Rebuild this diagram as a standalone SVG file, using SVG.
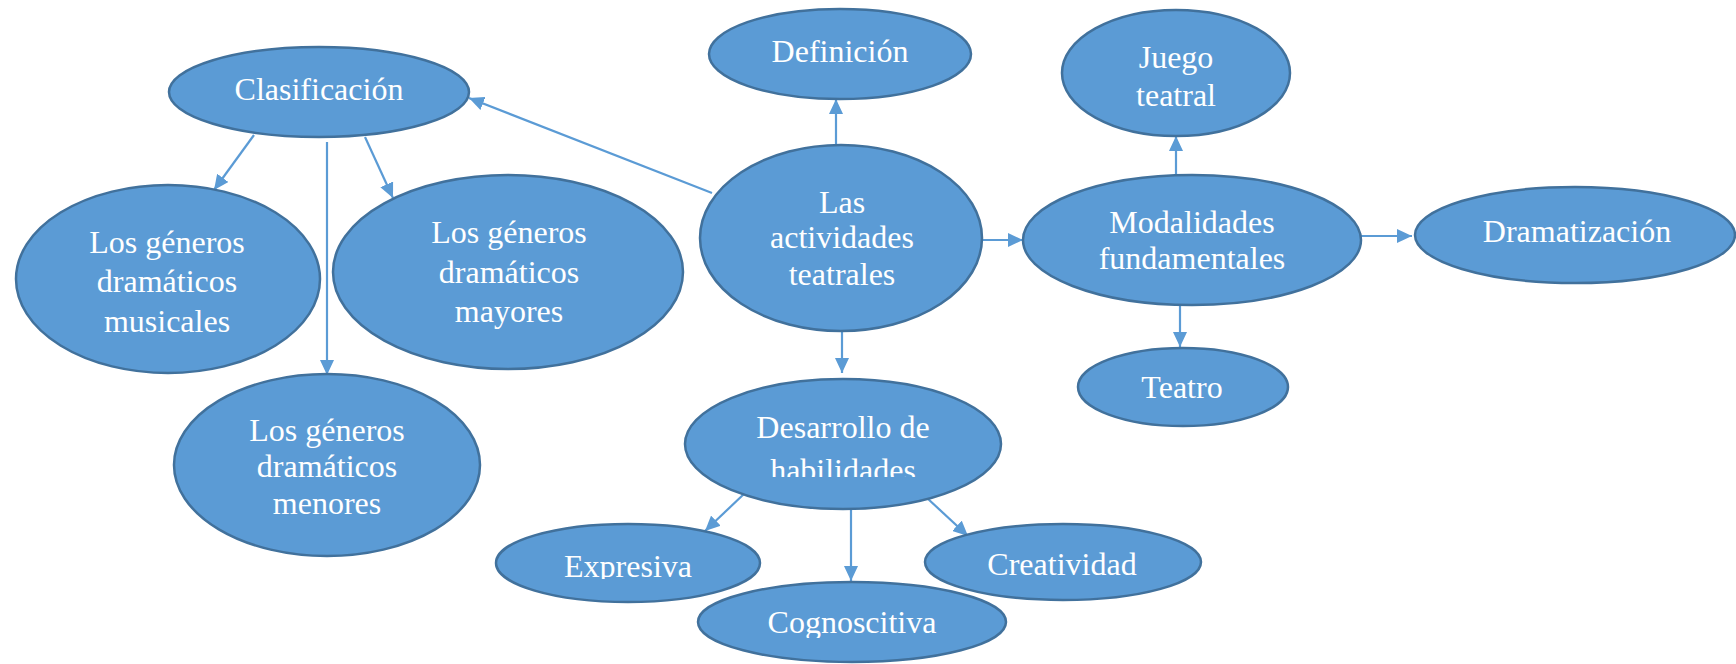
<svg xmlns="http://www.w3.org/2000/svg" width="1736" height="664" viewBox="0 0 1736 664">
<style>
.n{fill:#5B9BD5;stroke:#41719C;stroke-width:2.5}
.t{font-family:"Liberation Serif","Times New Roman",serif;font-size:32px;fill:#FFFFFF;text-anchor:middle}
.c{stroke:#5B9BD5;stroke-width:2.2;fill:none;marker-end:url(#ah)}
</style>
<defs>
<marker id="ah" markerUnits="userSpaceOnUse" markerWidth="16" markerHeight="14" refX="15" refY="7" orient="auto">
<path d="M0,0 L15,7 L0,14 z" fill="#5B9BD5"/>
</marker>
<clipPath id="clipHab"><rect x="600" y="400" width="500" height="77"/></clipPath>
<clipPath id="clipExp"><rect x="480" y="530" width="300" height="49"/></clipPath>
<clipPath id="clipCog"><rect x="690" y="590" width="330" height="48"/></clipPath>
</defs>
<rect width="1736" height="664" fill="#FFFFFF"/>
<g id="connectors">
<line class="c" x1="712" y1="193" x2="469" y2="98"/>
<line class="c" x1="254" y1="135" x2="214" y2="190"/>
<line class="c" x1="327" y1="142" x2="327" y2="375"/>
<line class="c" x1="365" y1="137" x2="393" y2="198"/>
<line class="c" x1="836" y1="145" x2="836" y2="99"/>
<line class="c" x1="983" y1="240" x2="1023" y2="240"/>
<line class="c" x1="842" y1="331" x2="842" y2="373"/>
<line class="c" x1="1176" y1="175" x2="1176" y2="136"/>
<line class="c" x1="1361" y1="236" x2="1412" y2="236"/>
<line class="c" x1="1180" y1="306" x2="1180" y2="347"/>
<line class="c" x1="745" y1="493" x2="705" y2="531"/>
<line class="c" x1="851" y1="508" x2="851" y2="581"/>
<line class="c" x1="927" y1="498" x2="968" y2="536"/>
</g>
<g id="clasificacion">
<ellipse class="n" cx="319" cy="92" rx="150" ry="45"/>
<text class="t" x="319" y="100">Clasificación</text>
</g>
<g id="musicales">
<ellipse class="n" cx="168" cy="279" rx="152" ry="94"/>
<text class="t" x="167" y="253">Los géneros</text>
<text class="t" x="167" y="292">dramáticos</text>
<text class="t" x="167" y="332">musicales</text>
</g>
<g id="mayores">
<ellipse class="n" cx="508" cy="272" rx="175" ry="97"/>
<text class="t" x="509" y="243">Los géneros</text>
<text class="t" x="509" y="283">dramáticos</text>
<text class="t" x="509" y="322">mayores</text>
</g>
<g id="menores">
<ellipse class="n" cx="327" cy="465" rx="153" ry="91"/>
<text class="t" x="327" y="441">Los géneros</text>
<text class="t" x="327" y="477">dramáticos</text>
<text class="t" x="327" y="514">menores</text>
</g>
<g id="definicion">
<ellipse class="n" cx="840" cy="54" rx="131" ry="45"/>
<text class="t" x="840" y="62">Definición</text>
</g>
<g id="juego">
<ellipse class="n" cx="1176" cy="73" rx="114" ry="63"/>
<text class="t" x="1176" y="68">Juego</text>
<text class="t" x="1176" y="106">teatral</text>
</g>
<g id="actividades">
<ellipse class="n" cx="841" cy="238" rx="141" ry="93"/>
<text class="t" x="842" y="213">Las</text>
<text class="t" x="842" y="248">actividades</text>
<text class="t" x="842" y="285">teatrales</text>
</g>
<g id="modalidades">
<ellipse class="n" cx="1192" cy="240" rx="169" ry="65"/>
<text class="t" x="1192" y="233">Modalidades</text>
<text class="t" x="1192" y="269">fundamentales</text>
</g>
<g id="dramatizacion">
<ellipse class="n" cx="1575" cy="235" rx="160" ry="48"/>
<text class="t" x="1577" y="242">Dramatización</text>
</g>
<g id="teatro">
<ellipse class="n" cx="1183" cy="387" rx="105" ry="39"/>
<text class="t" x="1182" y="398">Teatro</text>
</g>
<g id="desarrollo">
<ellipse class="n" cx="843" cy="444" rx="158" ry="65"/>
<text class="t" x="843" y="438">Desarrollo de</text>
<text class="t" x="843" y="481" clip-path="url(#clipHab)">habilidades</text>
</g>
<g id="expresiva">
<ellipse class="n" cx="628" cy="563" rx="132" ry="39"/>
<text class="t" x="628" y="577" clip-path="url(#clipExp)">Expresiva</text>
</g>
<g id="cognoscitiva">
<ellipse class="n" cx="852" cy="622" rx="154" ry="40"/>
<text class="t" x="852" y="633" clip-path="url(#clipCog)">Cognoscitiva</text>
</g>
<g id="creatividad">
<ellipse class="n" cx="1063" cy="562" rx="138" ry="38"/>
<text class="t" x="1062" y="575">Creatividad</text>
</g>
</svg>
